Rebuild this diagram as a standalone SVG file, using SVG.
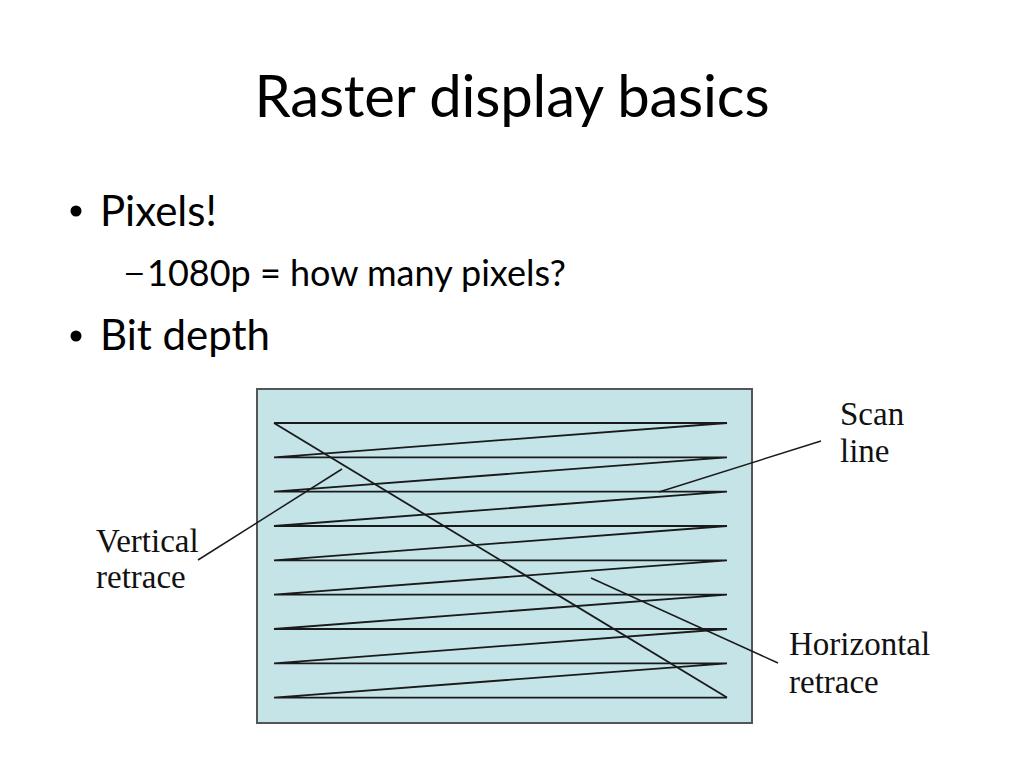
<svg xmlns="http://www.w3.org/2000/svg" width="1024" height="768" viewBox="0 0 1024 768">
<style>
.title{font-family:Lato,"Open Sans","Liberation Sans",sans-serif;font-size:58px;fill:#000}
.b1{font-family:Lato,"Open Sans","Liberation Sans",sans-serif;font-size:42px;fill:#000}
.b2{font-family:Lato,"Open Sans","Liberation Sans",sans-serif;font-size:36px;fill:#000}
.dash{font-family:"Liberation Sans",sans-serif;font-size:30px}
.lbl{font-family:"Liberation Serif","Times New Roman",serif;font-size:33px;fill:#111}
.scan{stroke:#1a1a1a;stroke-width:1.8;fill:none}
.ptr{stroke:#1a1a1a;stroke-width:1.5;fill:none}
</style>
<rect width="1024" height="768" fill="#fff"/>
<g id="title"><text class="title" x="512" y="117" text-anchor="middle" textLength="515">Raster display basics</text></g>
<g id="bullets">
<circle cx="76" cy="211" r="5.5" fill="#000"/>
<text class="b1" x="100" y="226">Pixels!</text>
<text class="b2" y="286"><tspan class="dash" x="126" dy="-4">–</tspan><tspan x="147" dy="4">1080p = how many pixels?</tspan></text>
<circle cx="76" cy="336" r="5.5" fill="#000"/>
<text class="b1" x="100" y="350">Bit depth</text>
</g>
<g id="screen">
<rect x="257" y="389" width="495" height="334" fill="#c5e4e8" stroke="#555" stroke-width="2"/>
</g>
<g id="connectors">
<path class="scan" d="M274 423H727L274 457.3H727L274 491.6H727L274 526H727L274 560.3H727L274 594.6H727L274 629H727L274 663.3H727L274 697.6H727"/>
<path class="scan" d="M274 423L727 697.6"/>
<path class="ptr" d="M198 560L342 469"/>
<path class="ptr" d="M659 492L821 441"/>
<path class="ptr" d="M591 578L778 663"/>
</g>
<g id="label-scan"><text class="lbl" x="840" y="425">Scan</text><text class="lbl" x="840" y="462">line</text></g>
<g id="label-vertical"><text class="lbl" x="96" y="552">Vertical</text><text class="lbl" x="96" y="588">retrace</text></g>
<g id="label-horizontal"><text class="lbl" x="789" y="655">Horizontal</text><text class="lbl" x="789" y="693">retrace</text></g>
</svg>
